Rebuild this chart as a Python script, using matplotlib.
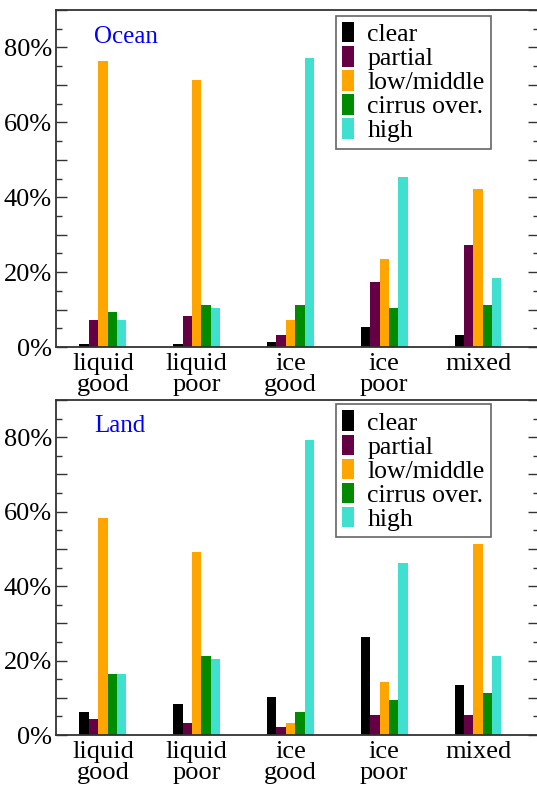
import matplotlib
matplotlib.use("Agg")
import matplotlib.pyplot as plt
import numpy as np
from matplotlib.ticker import MultipleLocator, FuncFormatter
from matplotlib.patches import Patch

categories = ["liquid\ngood", "liquid\npoor", "ice\ngood", "ice\npoor", "mixed"]
series = ["clear", "partial", "low/middle", "cirrus over.", "high"]
colors = ["#000000", "#660044", "#FFA500", "#008B00", "#40E0D0"]

ocean_clear = [0.7, 0.7, 1.3, 5.4, 3.3]
ocean_partial = [7.3, 8.3, 3.3, 17.3, 27.3]
ocean_lowmid = [76.3, 71.4, 7.3, 23.4, 42.3]
ocean_cirrus = [9.3, 11.3, 11.3, 10.3, 11.3]
ocean_high = [7.3, 10.3, 77.3, 45.3, 18.3]

land_clear = [6.3, 8.3, 10.3, 26.3, 13.3]
land_partial = [4.3, 3.3, 2.2, 5.3, 5.3]
land_lowmid = [58.3, 49.2, 3.3, 14.2, 51.3]
land_cirrus = [16.3, 21.3, 6.3, 9.3, 11.3]
land_high = [16.3, 20.3, 79.3, 46.3, 21.3]

plt.rcParams['font.family'] = ['Liberation Serif', 'DejaVu Serif']

W, H = 537, 787
fig = plt.figure(figsize=(W / 100, H / 100), dpi=100)

def px_axes(left, right, top, bottom):
    return fig.add_axes([left / W, 1 - bottom / H, (right - left) / W, (bottom - top) / H])

ax_top = px_axes(56, 539, 10, 347)
ax_bot = px_axes(56, 539, 400, 735)

panels = [
    (ax_top, "Ocean", [ocean_clear, ocean_partial, ocean_lowmid, ocean_cirrus, ocean_high], 0.92, 0.983),
    (ax_bot, "Land", [land_clear, land_partial, land_lowmid, land_cirrus, land_high], 0.922, 0.988),
]

x = np.arange(1, len(categories) + 1)
width = 0.1
for ax, title, data, ty, ly in panels:
    for i, (vals, c) in enumerate(zip(data, colors)):
        ax.bar(x + (i - 2) * width, vals, width=width, color=c, edgecolor='none', zorder=2)
    ax.set_xlim(0.5, 5.65)
    ax.set_ylim(0, 90)
    ax.set_xticks(x)
    ax.set_xticklabels(categories, fontsize=19, linespacing=0.98)
    ax.tick_params(axis='x', length=0, pad=4)
    ax.yaxis.set_major_locator(MultipleLocator(10))
    ax.yaxis.set_minor_locator(MultipleLocator(5))
    ax.yaxis.set_major_formatter(FuncFormatter(lambda v, p: f"{int(round(v))}%" if int(round(v)) % 20 == 0 else ""))
    ax.tick_params(axis='y', which='major', direction='in', length=8, width=1, left=True, right=True,
                   labelsize=19, pad=3, color='#333333')
    ax.tick_params(axis='y', which='minor', direction='in', length=4, width=1, left=True, right=True,
                   color='#333333')
    for s in ax.spines.values():
        s.set_linewidth(1.3)
        s.set_color('#333333')
    ax.text(0.079, ty, title, transform=ax.transAxes, color='#0000FF', fontsize=18,
            ha='left', va='center')
    handles = [Patch(facecolor=c, edgecolor='none') for c in colors]
    leg = ax.legend(handles, series, loc='upper right', bbox_to_anchor=(0.9005, ly),
                    fontsize=18.5, frameon=True, fancybox=False, edgecolor='#666666',
                    framealpha=1, handlelength=0.48, handleheight=0.84, handletextpad=0.5,
                    labelspacing=0.0, borderpad=0.25, borderaxespad=0)
    leg.get_frame().set_linewidth(1.2)

fig.savefig("out.png", dpi=100)
